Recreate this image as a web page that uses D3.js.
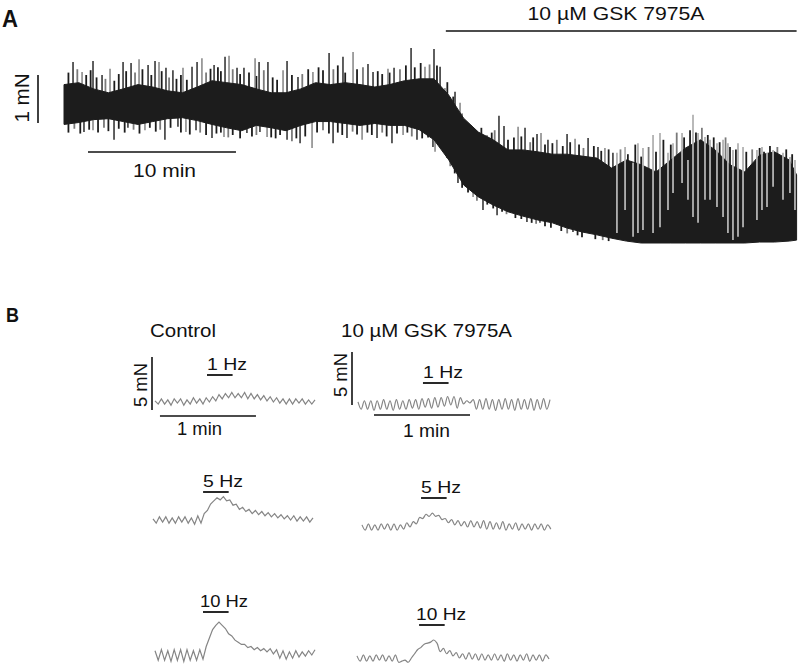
<!DOCTYPE html>
<html lang="en">
<head>
<meta charset="UTF-8" />
<title>GSK 7975A contraction traces</title>
<script src="https://d3js.org/d3.v7.min.js"></script>
<style>
  body { margin:0; background:#fff; }
  svg { display:block; font-family:"Liberation Sans", Arial, sans-serif; }
</style>
</head>
<body>
<svg width="800" height="670"></svg>
<script>
// ---------- panel A : long recording (time in min, force in mN) ----------
const envTime = [0,1,2,3,4,5,6,7,8,9,10,11,12,13,14,15,16,17,18,19,20,21,22,23,24,
  25,26,27,28,29,30,31,32,33,34,35,36,37,38,39,40,41,42,43,44,45,46,47,48,49,49.5];
const envTop = [3.30,3.34,3.21,3.13,3.21,3.30,3.25,3.17,3.13,3.25,
  3.38,3.34,3.30,3.21,3.13,3.13,3.21,3.34,3.30,3.34,
  3.30,3.25,3.30,3.38,3.42,3.42,3.08,2.60,2.31,2.15,
  1.94,1.94,1.90,1.85,1.85,1.81,1.77,1.56,1.73,1.63,
  1.48,1.73,1.98,2.15,1.94,1.63,1.48,1.83,1.90,1.73,1.42];
const envBottom = [2.47,2.51,2.57,2.59,2.53,2.47,2.53,2.59,2.61,2.55,
  2.47,2.40,2.34,2.45,2.40,2.34,2.45,2.53,2.53,2.49,
  2.45,2.49,2.45,2.45,2.36,2.15,1.73,1.21,0.96,0.79,
  0.65,0.56,0.48,0.42,0.31,0.23,0.17,0.10,0.04,0.00,
  0.00,0.00,0.00,0.00,0.00,0.00,0.00,0.02,0.02,0.04,0.06];
// tall single contractions poking out of the band: [time, force]
const spikeUp = [[0.61,3.77],[1.22,3.56],[1.96,3.79],[2.57,3.50],[3.11,3.63],[3.99,3.77],[4.53,3.75],
  [5.07,3.83],[5.68,3.71],[6.15,3.79],[6.42,3.77],[6.89,3.65],[7.36,3.60],[8.04,3.65],[8.65,3.67],
  [8.99,3.77],[9.32,3.85],[10.14,3.71],[10.88,3.88],[11.15,3.90],[11.69,3.65],[12.16,3.65],[12.91,3.85],
  [13.18,3.77],[13.78,3.77],[14.80,3.60],[15.07,3.79],[15.81,3.46],[16.82,3.56],[17.91,3.96],[18.85,3.88],
  [19.53,3.98],[20.54,3.73],[20.88,3.56],[21.89,3.63],[22.30,3.65],[23.45,4.06],[24.39,3.67],[25.00,4.04],
  [25.41,3.67],[25.74,3.23],[26.08,3.04],[26.42,3.15],[26.76,2.92],[27.23,2.46],[27.91,2.25],[28.58,2.25],
  [29.39,2.65],[29.73,2.44],[30.68,2.42],[31.15,2.40],[31.96,2.27],[32.23,2.29],[32.70,2.15],[33.99,2.27],
  [34.53,2.17],[35.41,2.19],[36.08,2.00],[36.55,1.98],[37.09,1.88]];
const spikeDown = [[1.35,2.31],[1.96,2.35],[3.38,2.15],[4.32,2.40],[5.47,2.35],[6.82,2.15],[7.70,2.42],
  [8.24,2.31],[8.92,2.35],[10.00,2.19],[10.81,2.21],[12.36,2.29],[13.24,2.31],[13.72,2.21],[15.07,2.15],
  [15.95,2.08],[16.76,1.98],[18.18,2.08],[19.12,2.19],[20.14,2.15],[21.15,2.19],[22.16,2.08],[22.91,2.25],
  [23.85,2.15],[24.93,2.00],[25.07,1.90],[25.88,1.77],[26.62,1.25],[27.64,0.96],[28.31,0.69],[29.26,0.58],
  [30.14,0.75],[31.28,0.44],[32.16,0.42],[33.31,0.38],[34.39,0.23],[35.54,0.21],[37.09,0.13]];
// shorter contractions that make the ragged edge of the band
const fringeUp = [[0.3,3.55],[0.9,3.62],[1.5,3.50],[1.8,3.60],[2.2,3.45],[2.8,3.42],[3.4,3.38],[3.7,3.52],
  [4.2,3.58],[4.8,3.55],[5.3,3.62],[5.9,3.50],[6.6,3.58],[7.1,3.45],[7.6,3.42],[7.9,3.50],[8.3,3.40],
  [9.6,3.55],[9.9,3.63],[10.4,3.66],[10.6,3.58],[11.4,3.62],[11.9,3.52],[12.5,3.55],[13.0,3.48],[13.5,3.60],
  [14.1,3.45],[14.4,3.40],[15.4,3.50],[16.1,3.52],[16.5,3.62],[17.2,3.66],[17.5,3.60],[18.2,3.62],[18.5,3.70],
  [19.0,3.55],[19.8,3.62],[20.2,3.66],[21.2,3.58],[21.5,3.52],[22.0,3.55],[22.7,3.62],[23.1,3.70],[23.7,3.66],
  [24.1,3.75],[24.7,3.72],[25.2,3.70],[25.9,3.35],[26.3,3.05],[26.9,2.70],[27.5,2.45],[28.2,2.40],[28.9,2.30],
  [29.1,2.35],[30.0,2.15],[30.4,2.20],[30.9,2.22],[31.5,2.10],[31.7,2.20],[32.5,2.05],[33.0,2.08],[33.3,2.15],
  [33.7,2.02],[34.2,2.10],[34.8,2.05],[35.1,1.98],[35.8,2.02],[36.3,1.92],[36.8,1.95],[37.6,1.95],[38.1,1.85],
  [38.6,2.05],[39.0,1.80],[39.5,2.00],[40.0,1.90],[40.5,2.15],[41.0,2.05],[41.4,2.30],[41.9,2.20],[42.3,2.35],
  [42.7,2.30],[43.1,2.40],[43.5,2.25],[43.9,2.20],[44.3,2.10],[44.7,2.20],[45.0,2.00],[45.4,1.95],[46.1,1.90],
  [46.5,1.95],[47.0,1.98],[47.3,1.90],[47.7,2.02],[48.2,2.00],[48.8,1.95],[49.2,1.85]];
const fringeDown = [[0.3,2.30],[0.7,2.38],[1.1,2.28],[1.7,2.36],[2.3,2.30],[2.7,2.40],[3.0,2.33],[3.7,2.38],
  [4.1,2.30],[4.7,2.36],[5.1,2.28],[5.8,2.40],[6.2,2.32],[6.5,2.36],[7.2,2.40],[7.9,2.30],[8.5,2.26],[9.2,2.30],
  [9.6,2.25],[10.3,2.28],[10.6,2.30],[11.1,2.20],[11.4,2.25],[11.9,2.18],[12.7,2.22],[13.0,2.25],[14.0,2.20],
  [14.3,2.18],[14.6,2.25],[15.4,2.12],[15.7,2.18],[16.3,2.22],[17.1,2.30],[17.5,2.35],[17.9,2.28],[18.5,2.30],
  [18.8,2.25],[19.5,2.32],[19.8,2.26],[20.5,2.30],[20.8,2.25],[21.5,2.30],[21.8,2.22],[22.5,2.28],[23.2,2.30],
  [23.5,2.22],[24.2,2.18],[24.6,2.20],[25.4,2.00],[26.1,1.60],[26.4,1.45],[26.9,1.15],[27.3,1.05],[27.9,0.88],
  [28.6,0.80],[29.0,0.72],[29.6,0.65],[29.9,0.60],[30.5,0.52],[30.9,0.50],[31.6,0.42],[31.9,0.40],[32.5,0.35],
  [32.9,0.32],[33.6,0.25],[34.0,0.20],[34.7,0.16],[35.0,0.12],[35.9,0.08],[36.4,0.06],[36.8,0.04]];
// lighter sweeps in the late part: [time, top, bottom]
const streaks = [[37.36,1.88,0.21],[37.91,2.00,0.69],[38.45,1.67,0.13],[38.78,2.08,0.21],[39.12,1.98,0.27],
  [39.80,2.25,0.21],[40.27,2.29,0.33],[40.81,1.88,0.69],[41.15,2.08,1.04],[41.76,2.29,1.25],[42.16,1.73,0.90],
  [42.50,2.67,0.54],[42.84,2.29,0.42],[43.31,2.21,0.90],[43.65,2.15,0.90],[44.12,2.08,0.75],[44.53,2.15,0.54],
  [44.86,2.08,0.21],[45.20,1.94,0.06],[45.54,2.08,0.13],[45.88,2.00,0.33],[46.82,1.94,0.48],[47.16,2.00,0.69],
  [47.50,1.88,0.75],[47.91,1.94,1.17],[48.58,1.88,0.90],[49.05,1.79,1.04],[49.39,1.73,0.69]];
const drugStart = 25.8, drugEnd = 49.5;

// ---------- panel B : 2 s samples, force in mN above rest ----------
const ctrl1 = [0.1,-0.2,0.3,-0.2,0.2,-0.3,0.3,-0.1,0.3,-0.3,
  0.2,-0.2,0.4,-0.1,0.3,-0.2,0.4,0.0,0.5,0.1,
  0.7,0.3,0.8,0.4,0.9,0.4,0.8,0.4,0.9,0.3,
  0.8,0.3,0.7,0.2,0.6,0.1,0.5,0.0,0.4,-0.1,
  0.3,-0.2,0.3,-0.2,0.3,-0.1,0.3,-0.2,0.2,-0.2,0.2];
const ctrl5 = [0.1,-0.3,0.3,-0.2,0.3,-0.3,0.2,-0.3,0.3,-0.2,
  0.3,-0.3,0.2,-0.4,0.4,-0.3,0.6,0.9,1.5,1.8,
  2.1,1.9,2.2,1.8,1.9,1.4,1.5,1.0,1.2,0.8,
  1.0,0.6,0.9,0.5,0.8,0.4,0.7,0.3,0.6,0.2,
  0.5,0.1,0.4,0.0,0.4,-0.1,0.3,-0.1,0.3,-0.2,0.2];
const ctrl10 = [0.4,-0.5,0.5,-0.5,0.4,-0.6,0.5,-0.5,0.5,-0.6,
  0.5,-0.5,0.4,-0.5,0.5,-0.4,0.8,1.6,2.4,2.8,
  3.1,2.8,2.5,2.0,1.8,1.4,1.2,1.0,1.0,0.7,
  0.8,0.5,0.7,0.4,0.6,0.3,0.6,0.1,0.5,-0.3,
  0.4,-0.4,0.3,-0.3,0.4,-0.2,0.3,-0.1,0.4,0.0,0.5];
const gsk1 = [0.3,-0.4,0.4,-0.4,0.4,-0.5,0.4,-0.4,0.5,-0.4,
  0.4,-0.5,0.5,-0.4,0.4,-0.4,0.5,-0.3,0.5,-0.4,
  0.6,-0.2,0.6,-0.3,0.7,-0.2,0.7,-0.1,0.8,0.0,
  0.8,-0.3,0.7,0.1,0.4,0.2,0.5,-0.4,0.5,-0.4,
  0.6,-0.4,0.5,-0.5,0.5,-0.4,0.6,-0.4,0.5,-0.5,
  0.6,-0.4,0.5,-0.4,0.6,-0.5,0.5,-0.4,0.6,-0.4,0.5];
const gsk5 = [0.2,-0.3,0.3,-0.3,0.2,-0.3,0.3,-0.2,0.3,-0.3,
  0.3,-0.3,0.2,-0.2,0.4,0.0,0.5,0.3,0.9,0.8,
  1.2,1.0,1.3,1.0,1.1,0.7,0.8,0.4,0.7,0.2,
  0.6,0.1,0.5,0.0,0.6,0.0,0.5,-0.1,0.6,-0.2,
  0.5,-0.2,0.4,-0.2,0.5,-0.3,0.3,-0.2,0.4,-0.3,
  0.3,-0.2,0.3,-0.3,0.3,-0.2,0.3,-0.3,0.2,-0.2];
const gsk10 = [0.2,-0.3,0.3,-0.3,0.2,-0.3,0.3,-0.2,0.3,-0.3,
  0.2,-0.3,0.3,-0.4,-0.3,-0.2,-0.4,0.0,0.4,0.8,
  1.0,1.3,1.4,1.5,1.7,1.4,0.6,0.9,0.4,0.7,
  0.2,0.5,0.0,0.4,-0.1,0.5,-0.1,0.4,-0.2,0.4,
  -0.2,0.3,-0.2,0.4,-0.2,0.3,-0.3,0.4,-0.2,0.3,
  -0.3,0.3,-0.2,0.4,-0.3,0.3,-0.2,0.3,-0.3,0.3,-0.1];
const sampleStep = 2; // s
const stimLabels = ["1 Hz", "5 Hz", "10 Hz"];
const stimStartCtrl = [32.5, 31.3, 30.0];   // s from trace start
const stimStartGsk = [40.6, 36.9, 38.8];
const stimDur = 16;

const svg = d3.select("svg");

// text helper: sizes and widths
function txt(str, x, y, size, len, opt = {}) {
  const t = svg.append("text")
    .attr("x", x).attr("y", y)
    .attr("font-size", size)
    .attr("font-weight", opt.bold ? "bold" : null)
    .attr("text-anchor", opt.anchor || "start")
    .attr("fill", "#111")
    .attr("textLength", len)
    .attr("lengthAdjust", "spacingAndGlyphs")
    .text(str);
  if (opt.rotate) t.attr("transform", `rotate(-90,${x},${y})`);
  return t;
}
function bar(x1, y1, x2, y2, w = 1.6) {
  svg.append("line").attr("x1", x1).attr("y1", y1).attr("x2", x2).attr("y2", y2)
    .attr("stroke", "#111").attr("stroke-width", w);
}

// ---------------- panel A ----------------
const xA = d3.scaleLinear().domain([0, 49.5]).range([64, 796.6]);
const yA = d3.scaleLinear().domain([0, 1]).range([243, 195]);
const band = envTime.map((t, i) => ({ t, top: envTop[i], bot: envBottom[i] }));
const topAt = d3.scaleLinear().domain(envTime).range(envTop);
const botAt = d3.scaleLinear().domain(envTime).range(envBottom);
const midAt = t => (topAt(t) + botAt(t)) / 2;

const gA = svg.append("g");
function spikes(data, cls, every, w) {
  gA.selectAll("." + cls).data(data).enter().append("line")
    .attr("class", cls)
    .attr("x1", d => xA(d[0])).attr("x2", d => xA(d[0]))
    .attr("y1", d => yA(d[1])).attr("y2", d => yA(midAt(d[0])))
    .attr("stroke", (d, i) => i % every === 1 ? "#7a7a7a" : "#1c1c1c")
    .attr("stroke-width", w);
}
spikes(fringeUp, "fu", 4, 1.8);
spikes(fringeDown, "fd", 4, 1.8);
spikes(spikeUp, "up", 3, 1.4);
spikes(spikeDown, "dn", 3, 1.4);

gA.append("path").datum(band)
  .attr("d", d3.area().x(d => xA(d.t)).y0(d => yA(d.bot)).y1(d => yA(d.top)))
  .attr("fill", "#1c1c1c").attr("stroke", "#1c1c1c").attr("stroke-width", 1);

gA.selectAll(".streak").data(streaks).enter().append("line")
  .attr("x1", d => xA(d[0])).attr("x2", d => xA(d[0]))
  .attr("y1", d => yA(d[1])).attr("y2", d => yA(d[2]))
  .attr("stroke", "#b2b2b2").attr("stroke-width", 1.8);

txt("A", 2, 27, 23, 16, { bold: true });
bar(38, yA(3.5), 38, yA(2.5));
txt("1 mN", 29, 98, 20, 49, { rotate: true, anchor: "middle" });
bar(xA(1.62), 152, xA(11.62), 152);
txt("10 min", 164.5, 177, 18.5, 63, { anchor: "middle" });
bar(xA(drugStart), 31, xA(drugEnd), 31);
txt("10 \u00B5M GSK 7975A", 616, 20, 18.5, 177, { anchor: "middle" });

// ---------------- panel B ----------------
txt("B", 6, 322, 20, 13, { bold: true });
txt("Control", 150, 337, 18, 66);
txt("10 \u00B5M GSK 7975A", 341, 337, 18, 171);

const tracesB = [
  { data: ctrl1, x0: 155, y0: 402, stim: stimStartCtrl[0], lab: stimLabels[0], barY: 375, len: 40 },
  { data: ctrl5, x0: 153, y0: 520, stim: stimStartCtrl[1], lab: stimLabels[1], barY: 492, len: 40 },
  { data: ctrl10, x0: 155, y0: 655, stim: stimStartCtrl[2], lab: stimLabels[2], barY: 612, len: 48 },
  { data: gsk1, x0: 358, y0: 405, stim: stimStartGsk[0], lab: stimLabels[0], barY: 383, len: 40 },
  { data: gsk5, x0: 362, y0: 527, stim: stimStartGsk[1], lab: stimLabels[1], barY: 498, len: 40 },
  { data: gsk10, x0: 357, y0: 658, stim: stimStartGsk[2], lab: stimLabels[2], barY: 625, len: 50 }
];

tracesB.forEach((tr, k) => {
  const x = d3.scaleLinear().domain([0, 60]).range([tr.x0, tr.x0 + 96]);
  const y = d3.scaleLinear().domain([0, 5]).range([tr.y0, tr.y0 - 53]);
  const line = d3.line()
    .x((d, i) => x(i * sampleStep)).y(d => y(d))
    .curve(k < 3 ? d3.curveLinear : d3.curveCatmullRom);
  svg.append("path").datum(tr.data).attr("d", line)
    .attr("fill", "none").attr("stroke", "#858585").attr("stroke-width", 1.2);
  bar(x(tr.stim), tr.barY, x(tr.stim + stimDur), tr.barY, 1.8);
  txt(tr.lab, x(tr.stim) - (tr.len > 40 ? 3 : 0), tr.barY - 5, 16.5, tr.len);
  if (k === 0) {
    bar(152, 410, 152, 410 - (y(0) - y(5)));
    txt("5 mN", 147, 385, 19, 44, { rotate: true, anchor: "middle" });
    bar(x(3.1), 416, x(63.1), 416);
    txt("1 min", 199.5, 435, 17.5, 45, { anchor: "middle" });
  }
  if (k === 3) {
    bar(352, 405, 352, 405 - (y(0) - y(5)));
    txt("5 mN", 347, 375, 19, 44, { rotate: true, anchor: "middle" });
    bar(x(10), 415, x(70), 415);
    txt("1 min", 426.5, 437, 17.5, 47, { anchor: "middle" });
  }
});
</script>
</body>
</html>
